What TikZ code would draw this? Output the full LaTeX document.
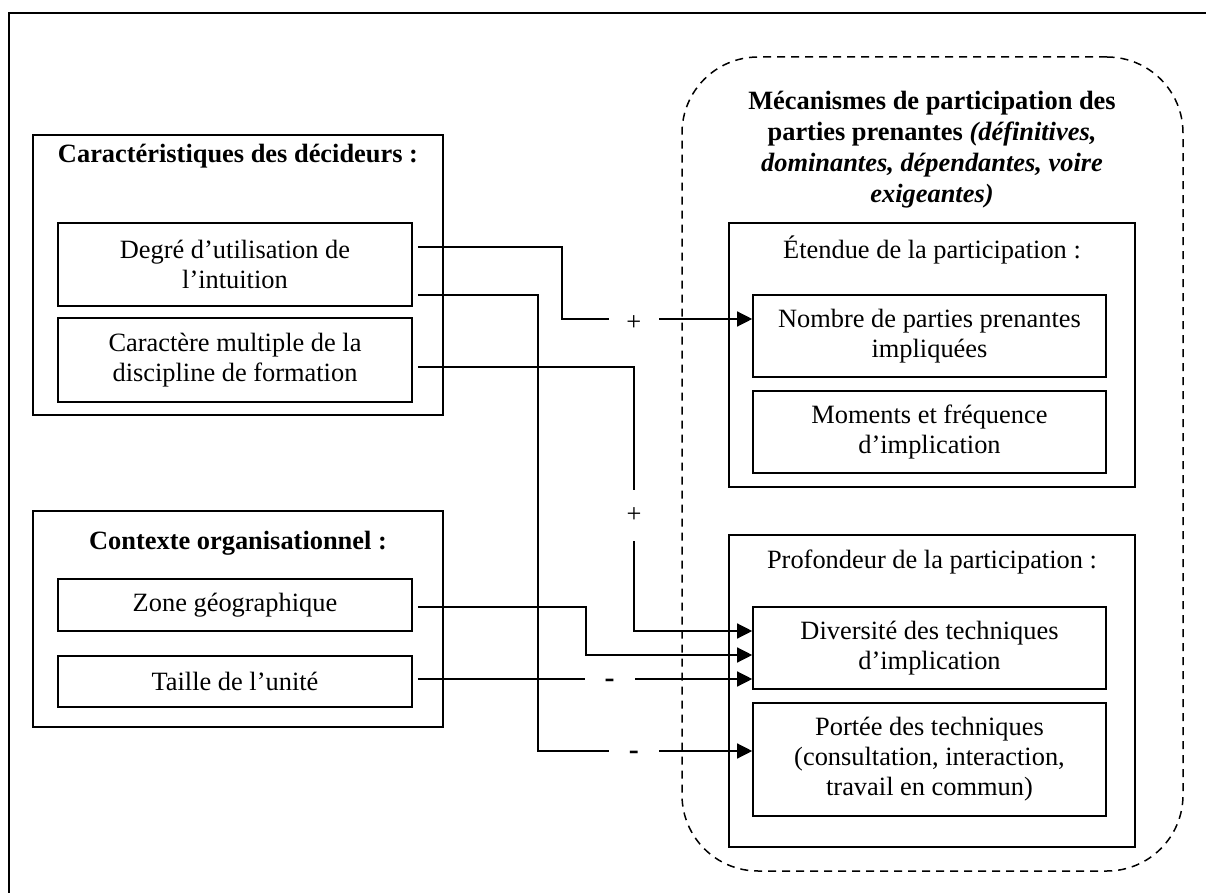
\documentclass[tikz,border=0pt]{standalone}
\usepackage{fontspec}
\setmainfont{Liberation Serif}
\usetikzlibrary{arrows.meta,calc}
\newcommand\fsz{\fontsize{13.2pt}{15pt}\selectfont}
\newcommand\fszt{\fontsize{13.2pt}{15.5pt}\selectfont}
\newcommand\minus{\textbf{\fontsize{15pt}{15pt}\selectfont -}}
\begin{document}
\begin{tikzpicture}[x=0.5pt,y=-0.5pt,
  box/.style={draw, line width=0.8pt, align=center, inner sep=0pt, font=\fsz},
  grp/.style={draw, line width=0.8pt, inner sep=0pt},
  ttl/.style={align=center, inner sep=0pt, font=\fsz\bfseries},
  sub/.style={align=center, inner sep=0pt, font=\fsz},
  conn/.style={line width=0.65pt},
  arr/.style={-{Triangle[length=7.5pt,width=7.5pt]}},
  hgap/.style={fill=white, inner sep=0pt, minimum width=25pt, minimum height=8pt, yshift=-2pt, font=\fsz},
  vgap/.style={fill=white, inner sep=0pt, minimum width=8pt, minimum height=25.5pt, yshift=-2pt, font=\fsz}]
\useasboundingbox (0,0) rectangle (1206,893);

% outer frame
\draw[line width=1pt] (9,893) -- (9,13) -- (1206,13);

% left groups
\node[grp, minimum width=205pt, minimum height=140pt] (g1) at (238,275) {};
\node[ttl] (g1t) at (238,156) {Caractéristiques des décideurs :};
\node[box, minimum width=177pt, minimum height=41.5pt] (deg) at (235,264.5) {Degré d’utilisation de\\l’intuition};
\node[box, minimum width=177pt, minimum height=42pt] (car) at (235,360) {Caractère multiple de la\\discipline de formation};

\node[grp, minimum width=205pt, minimum height=108pt] (g2) at (238,619) {};
\node[ttl] (g2t) at (238,543) {Contexte organisationnel :};
\node[box, minimum width=177pt, minimum height=26pt] (zon) at (235,605) {Zone géographique};
\node[box, minimum width=177pt, minimum height=25.5pt] (tai) at (235,681.5) {Taille de l’unité};

% right dashed group
\node[draw, dash pattern=on 4pt off 3pt, line width=0.75pt, rounded corners=38pt, minimum width=250.5pt, minimum height=407pt, inner sep=0pt] (mec) at (932.5,464) {};
\node[ttl, font=\fszt\bfseries] (mect) at (932,149.5) {Mécanismes de participation des\\parties prenantes \textit{(définitives,}\\\textit{dominantes, dépendantes, voire}\\\textit{exigeantes)}};

\node[grp, minimum width=203pt, minimum height=132pt] (ete) at (932,355) {};
\node[sub] (etet) at (932,250) {Étendue de la participation :};
\node[box, minimum width=176.5pt, minimum height=41pt] (nom) at (929.5,336) {Nombre de parties prenantes\\impliquées};
\node[box, minimum width=176.5pt, minimum height=41pt] (mom) at (929.5,432) {Moments et fréquence\\d’implication};

\node[grp, minimum width=203pt, minimum height=156pt] (pro) at (932,691) {};
\node[sub] (prot) at (932,562) {Profondeur de la participation :};
\node[box, minimum width=176.5pt, minimum height=41pt] (div) at (929.5,648) {Diversité des techniques\\d’implication};
\node[box, minimum width=176.5pt, minimum height=56.5pt] (por) at (929.5,759.5) {Portée des techniques\\(consultation, interaction,\\travail en commun)};

% connectors
\draw[conn,arr,shorten <=2.5pt] (deg.east|-0,247) -| (562,319) -- node[hgap,pos=0.377]{+} (nom.west|-0,319);
\draw[conn,arr,shorten <=2.5pt] (deg.east|-0,295) -| (538,751) -- node[hgap,pos=0.447]{\minus} (por.west|-0,751);
\draw[conn,arr,shorten <=2.5pt] (car.east|-0,367) -| node[vgap,pos=0.773]{+} (634,631) -- (div.west|-0,631);
\draw[conn,arr,shorten <=2.5pt] (zon.east|-0,607) -| (586,655) -- (div.west|-0,655);
\draw[conn,arr,shorten <=2.5pt] (tai.east|-0,679) -- node[hgap,pos=0.58]{\minus} (div.west|-0,679);
\end{tikzpicture}
\end{document}
